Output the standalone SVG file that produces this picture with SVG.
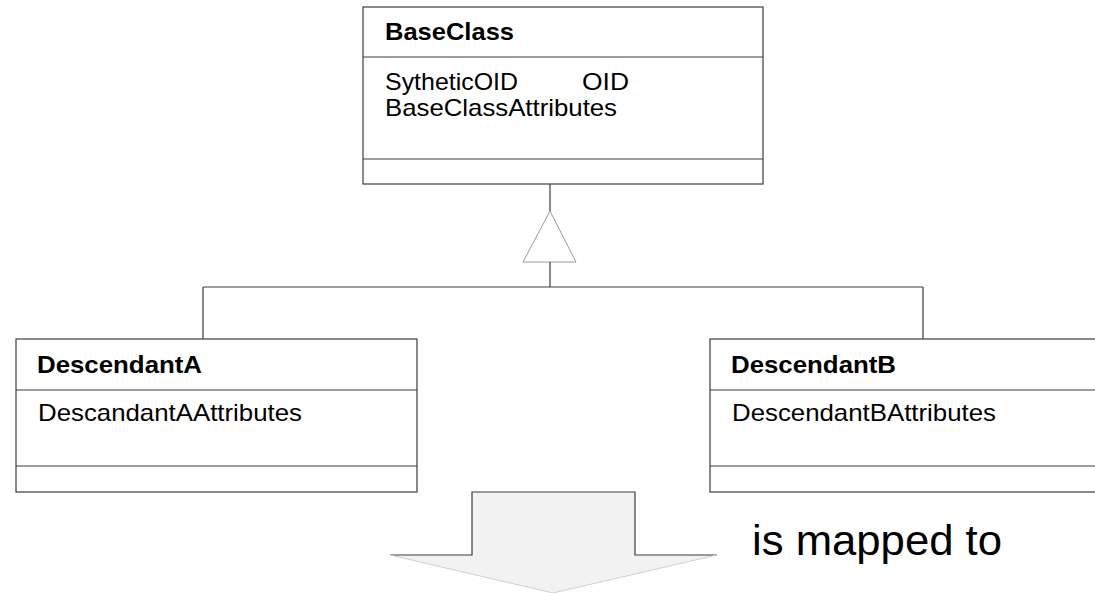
<svg xmlns="http://www.w3.org/2000/svg" width="1095" height="593" viewBox="0 0 1095 593">
<style>
.box{fill:#fff;stroke:#3c3c3c;stroke-width:1.2}
.sep{stroke:#3c3c3c;stroke-width:1.2}
.conn{stroke:#3c3c3c;stroke-width:1.2;fill:none}
.tri{fill:#fff;stroke:#9a9a9a;stroke-width:1}
.name{font-family:"Liberation Sans",Arial,sans-serif;font-weight:bold;font-size:24px;fill:#000}
.attr{font-family:"Liberation Sans",Arial,sans-serif;font-size:24px;fill:#000}
.lbl{font-family:"Liberation Sans",Arial,sans-serif;font-size:42px;fill:#000}
</style>
<rect width="1095" height="593" fill="#fff"/>
<g id="connectors">
<line class="conn" x1="550" y1="184" x2="550" y2="211"/>
<polygon class="tri" points="550,211 576,262 523,262"/>
<line class="conn" x1="550" y1="262" x2="550" y2="287"/>
<line class="conn" x1="203" y1="287" x2="923" y2="287"/>
<line class="conn" x1="203" y1="287" x2="203" y2="339"/>
<line class="conn" x1="923" y1="287" x2="923" y2="339"/>
</g>
<g id="BaseClass">
<rect class="box" x="363" y="7" width="400" height="177"/>
<line class="sep" x1="363" y1="57" x2="763" y2="57"/>
<line class="sep" x1="363" y1="159" x2="763" y2="159"/>
<text class="name" x="385" y="40" textLength="129" lengthAdjust="spacingAndGlyphs">BaseClass</text>
<text class="attr" x="385" y="90" textLength="133" lengthAdjust="spacingAndGlyphs">SytheticOID</text>
<text class="attr" x="582" y="90" textLength="47" lengthAdjust="spacingAndGlyphs">OID</text>
<text class="attr" x="385" y="116" textLength="232" lengthAdjust="spacingAndGlyphs">BaseClassAttributes</text>
</g>
<g id="DescendantA">
<rect class="box" x="16" y="339" width="401" height="153"/>
<line class="sep" x1="16" y1="390" x2="417" y2="390"/>
<line class="sep" x1="16" y1="466" x2="417" y2="466"/>
<text class="name" x="37" y="373" textLength="165" lengthAdjust="spacingAndGlyphs">DescendantA</text>
<text class="attr" x="38" y="421" textLength="264" lengthAdjust="spacingAndGlyphs">DescandantAAttributes</text>
</g>
<g id="DescendantB">
<rect class="box" x="710" y="339" width="420" height="153"/>
<line class="sep" x1="710" y1="390" x2="1130" y2="390"/>
<line class="sep" x1="710" y1="466" x2="1130" y2="466"/>
<text class="name" x="731" y="373" textLength="165" lengthAdjust="spacingAndGlyphs">DescendantB</text>
<text class="attr" x="732" y="421" textLength="264" lengthAdjust="spacingAndGlyphs">DescendantBAttributes</text>
</g>
<g id="mapping-arrow">
<polygon points="472,492 635,492 635,555 717,555 553,593 390,555 472,555" fill="#f2f2f2" stroke="none"/>
<polyline points="390,555 472,555 472,492 635,492 635,555 717,555" fill="none" stroke="#3c3c3c" stroke-width="1.2"/>
<polyline points="390,555 553,593 717,555" fill="none" stroke="#cfcfcf" stroke-width="1"/>
</g>
<g id="label">
<text class="lbl" x="752" y="555" textLength="250" lengthAdjust="spacingAndGlyphs">is mapped to</text>
</g>
</svg>
